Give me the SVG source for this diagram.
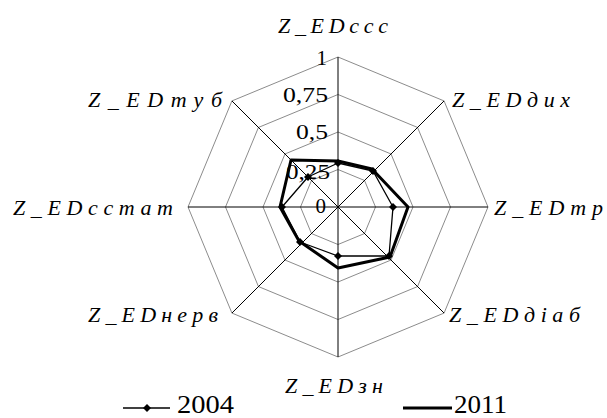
<svg xmlns="http://www.w3.org/2000/svg" width="607" height="418" viewBox="0 0 607 418">
<defs>
<style>
.ring{fill:none;stroke:#8c8c8c;stroke-width:1}
.spoke{stroke:#000;stroke-width:1}
.s2004{fill:none;stroke:#000;stroke-width:1.3;stroke-linejoin:round}
.s2011{fill:none;stroke:#000;stroke-width:3;stroke-linejoin:round}
</style>
<marker id="dm" viewBox="-5 -5 10 10" markerWidth="10" markerHeight="10" markerUnits="userSpaceOnUse" refX="0" refY="0" orient="0">
<path d="M0,-4 L4,0 L0,4 L-4,0 Z" fill="#000"/>
</marker>
</defs>
<rect width="607" height="418" fill="#fff"/>
<g id="grid">
<polygon class="ring" points="338,169.5 364.52,180.48 375.5,207 364.52,233.52 338,244.5 311.48,233.52 300.5,207 311.48,180.48"/>
<polygon class="ring" points="338,132 391.03,153.97 413,207 391.03,260.03 338,282 284.97,260.03 263,207 284.97,153.97"/>
<polygon class="ring" points="338,94.5 417.55,127.45 450.5,207 417.55,286.55 338,319.5 258.45,286.55 225.5,207 258.45,127.45"/>
<polygon class="ring" points="338,57 444.07,100.93 488,207 444.07,313.07 338,357 231.93,313.07 188,207 231.93,100.93"/>
</g>
<g id="axes">
<line class="spoke" x1="338" y1="207" x2="338" y2="57"/>
<line class="spoke" x1="338" y1="207" x2="444.07" y2="100.93"/>
<line class="spoke" x1="338" y1="207" x2="488" y2="207"/>
<line class="spoke" x1="338" y1="207" x2="444.07" y2="313.07"/>
<line class="spoke" x1="338" y1="207" x2="338" y2="357"/>
<line class="spoke" x1="338" y1="207" x2="231.93" y2="313.07"/>
<line class="spoke" x1="338" y1="207" x2="188" y2="207"/>
<line class="spoke" x1="338" y1="207" x2="231.93" y2="100.93"/>
</g>
<g id="ticks">
<text font-family="Liberation Serif" font-size="21" text-anchor="end" x="327" y="65">1</text>
<text font-family="Liberation Serif" font-size="21" text-anchor="end" x="328" y="102" textLength="45" lengthAdjust="spacingAndGlyphs">0,75</text>
<text font-family="Liberation Serif" font-size="21" text-anchor="end" x="328" y="139" textLength="32" lengthAdjust="spacingAndGlyphs">0,5</text>
<text font-family="Liberation Serif" font-size="21" text-anchor="end" x="330" y="179" textLength="44" lengthAdjust="spacingAndGlyphs">0,25</text>
<text font-family="Liberation Serif" font-size="21" text-anchor="end" x="326" y="213">0</text>
</g>
<g id="series-2011">
<polygon class="s2011" points="338,161 372,169 408,207 390,257 338,268 299,241 280,207 291,160"/>
</g>
<g id="series-2004">
<polygon class="s2004" marker-start="url(#dm)" marker-mid="url(#dm)" points="338,163 373,171 393,207 389,256 338,256 300,242 282,207 308,177"/>
</g>
<g id="labels">
<text id="l-ccc" font-family="Liberation Serif" font-style="italic" font-size="22" x="278" y="33" textLength="110" lengthAdjust="spacing">Z_EDссс</text>
<text id="l-dyh" font-family="Liberation Serif" font-style="italic" font-size="22" x="452" y="107" textLength="118" lengthAdjust="spacing">Z_EDдих</text>
<text id="l-tr" font-family="Liberation Serif" font-style="italic" font-size="22" x="494" y="215" textLength="109" lengthAdjust="spacing">Z_EDтр</text>
<text id="l-diab" font-family="Liberation Serif" font-style="italic" font-size="22" x="449" y="322" textLength="131" lengthAdjust="spacing">Z_EDдіаб</text>
<text id="l-zn" font-family="Liberation Serif" font-style="italic" font-size="22" x="285" y="393" textLength="98" lengthAdjust="spacing">Z_EDзн</text>
<text id="l-nerv" font-family="Liberation Serif" font-style="italic" font-size="22" x="88" y="322" textLength="130" lengthAdjust="spacing">Z_EDнерв</text>
<text id="l-sstat" font-family="Liberation Serif" font-style="italic" font-size="22" x="13" y="215" textLength="160" lengthAdjust="spacing">Z_EDсстат</text>
<text id="l-tub" font-family="Liberation Serif" font-style="italic" font-size="22" x="88" y="107" textLength="134" lengthAdjust="spacing">Z_EDтуб</text>
</g>
<g id="legend">
<line x1="123" y1="408" x2="170" y2="408" stroke="#000" stroke-width="1.3"/>
<path d="M147,404 L151,408 L147,412 L143,408 Z" fill="#000"/>
<text font-family="Liberation Serif" font-size="25" x="177" y="413" textLength="57" lengthAdjust="spacingAndGlyphs">2004</text>
<line x1="403" y1="408" x2="452" y2="408" stroke="#000" stroke-width="3"/>
<text font-family="Liberation Serif" font-size="25" x="454" y="413" textLength="53" lengthAdjust="spacingAndGlyphs">2011</text>
</g>
</svg>
